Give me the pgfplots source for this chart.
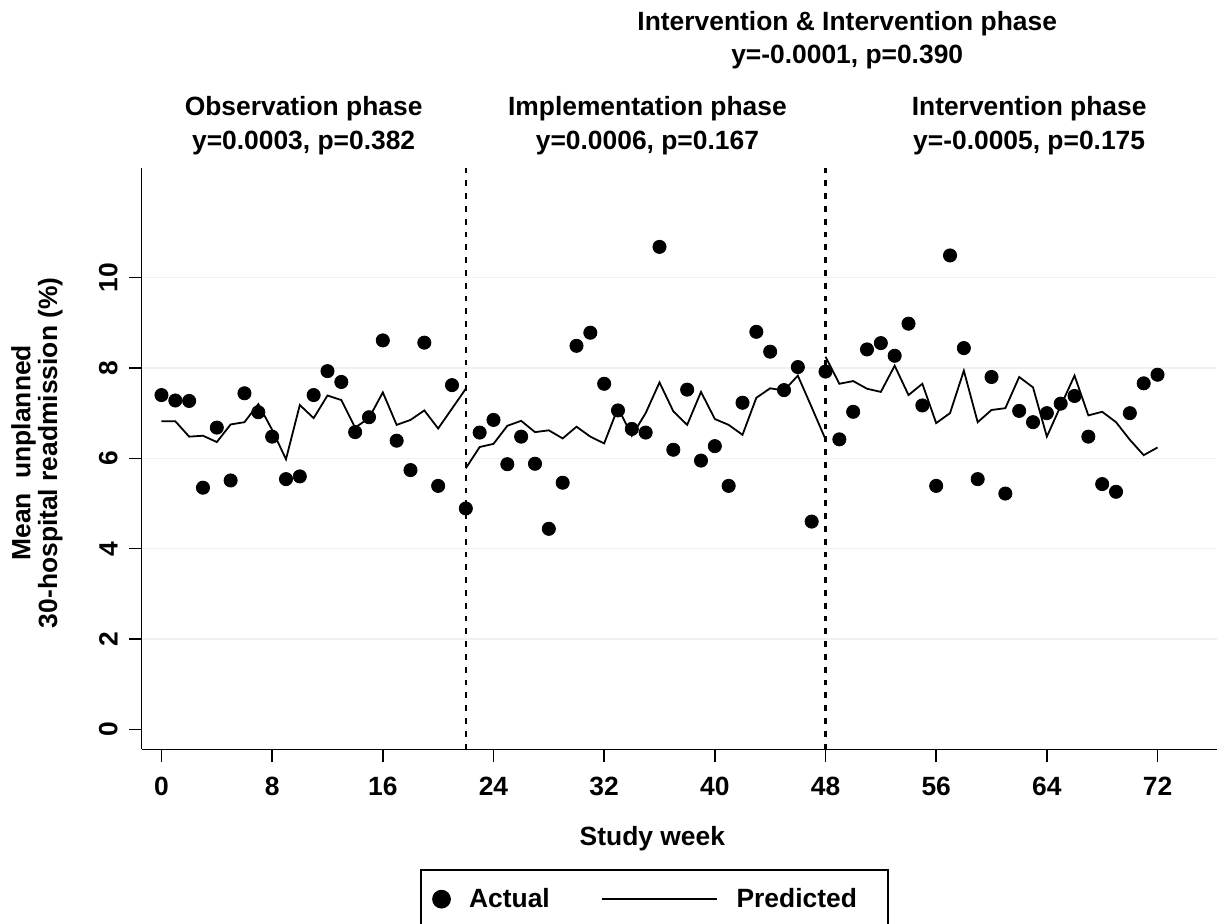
\documentclass[border=0pt]{standalone}
\usepackage{fontspec}
\setmainfont{Liberation Sans}
\usepackage{pgfplots}
\usepackage{pgfplotstable}
\pgfplotsset{compat=1.18}
\definecolor{gridc}{HTML}{EAF2F3}
\newcommand{\lbl}{\fontsize{13.2}{16}\selectfont\bfseries}

\pgfplotstableread{
week actual
0 7.40
1 7.28
2 7.27
3 5.35
4 6.68
5 5.51
6 7.44
7 7.02
8 6.48
9 5.54
10 5.60
11 7.40
12 7.93
13 7.69
14 6.58
15 6.91
16 8.61
17 6.39
18 5.74
19 8.56
20 5.39
21 7.62
22 4.89
23 6.57
24 6.85
25 5.87
26 6.48
27 5.88
28 4.44
29 5.46
30 8.49
31 8.78
32 7.65
33 7.06
34 6.65
35 6.57
36 10.68
37 6.19
38 7.52
39 5.95
40 6.27
41 5.39
42 7.23
43 8.80
44 8.36
45 7.51
46 8.02
47 4.60
48 7.92
49 6.42
50 7.03
51 8.41
52 8.55
53 8.27
54 8.98
55 7.17
56 5.39
57 10.49
58 8.44
59 5.54
60 7.80
61 5.22
62 7.05
63 6.80
64 7.00
65 7.21
66 7.38
67 6.48
68 5.43
69 5.26
70 7.00
71 7.66
72 7.85
}\actual

% predicted, observation phase
\pgfplotstableread{
week pred
0 6.82
1 6.82
2 6.48
3 6.50
4 6.36
5 6.75
6 6.80
7 7.20
8 6.63
9 5.98
10 7.18
11 6.89
12 7.39
13 7.29
14 6.68
15 6.89
16 7.46
17 6.74
18 6.85
19 7.06
20 6.66
21 7.10
22 7.54
}\predA

% implementation phase
\pgfplotstableread{
week pred
22 5.78
23 6.25
24 6.32
25 6.72
26 6.83
27 6.58
28 6.62
29 6.44
30 6.70
31 6.48
32 6.33
33 7.12
34 6.50
35 7.00
36 7.68
37 7.04
38 6.74
39 7.47
40 6.87
41 6.74
42 6.52
43 7.34
44 7.55
45 7.50
46 7.83
47 7.13
48 6.42
}\predB

% intervention phase
\pgfplotstableread{
week pred
48 8.25
49 7.65
50 7.71
51 7.54
52 7.47
53 8.05
54 7.40
55 7.65
56 6.78
57 7.00
58 7.94
59 6.80
60 7.07
61 7.11
62 7.80
63 7.57
64 6.48
65 7.16
66 7.83
67 6.95
68 7.03
69 6.80
70 6.41
71 6.07
72 6.24
}\predC

\begin{document}
\begin{tikzpicture}
\begin{axis}[
    name=ax,
    scale only axis,
    width=537.65pt, height=290.75pt,
    xmin=-1.43, xmax=76.3,
    ymin=-0.44, ymax=12.43,
    axis x line*=bottom, axis y line*=left,
    axis line style={black, line width=0.75pt, -},
    xtick={0,8,...,72},
    ytick={2,4,...,10},
    extra y ticks={0},
    extra y tick style={grid=none},
    ymajorgrids,
    grid style={gridc, line width=0.7pt},
    tick align=outside,
    major tick length=6.35pt,
    tick style={black, line width=0.75pt},
    /pgf/number format/assume math mode=true,
    ticklabel style={font=\lbl},
    xticklabel style={anchor=north, inner sep=0pt},
    yticklabel style={rotate=90, anchor=south, inner sep=0pt},
    xticklabel shift=7.35pt,
    yticklabel shift=5.5pt,
    xlabel={Study week},
    ylabel={Mean~ unplanned\\30-hospital readmission (\%)},
    every axis x label/.style={at={(axis description cs:0.4749,-0.1651)}, anchor=base, font=\lbl},
    every axis y label/.style={at={(axis description cs:-0.0974,0.51)}, rotate=90, anchor=center, align=center, font=\fontsize{13.2}{11.7}\selectfont\bfseries},
    legend columns=2,
    legend style={
        at={(0.4768,-0.2064)}, anchor=north,
        draw=black, line width=0.75pt,
        font=\lbl,
        inner xsep=6pt, inner ysep=7pt,
        /tikz/every odd column/.append style={column sep=7.5pt},
        /tikz/every even column/.append style={column sep=23.5pt},
    },
    clip=false,
]
\addplot[only marks, mark=*, mark size=3.3pt, mark options={fill=black, draw=black},
    legend image code/.code={\draw[mark size=4.3pt] plot coordinates {(0pt,0pt)};}]
    table[x=week, y=actual] {\actual};
\addlegendentry{Actual}
\addplot[black, line width=0.9pt, no marks,
    legend image code/.code={\draw (0pt,0pt) -- (57.5pt,0pt);}]
    table[x=week, y=pred] {\predA};
\addlegendentry{Predicted\hspace*{7.5pt}\rule[-7pt]{0pt}{1pt}}
\addplot[black, line width=0.9pt, no marks, forget plot] table[x=week, y=pred] {\predB};
\addplot[black, line width=0.9pt, no marks, forget plot] table[x=week, y=pred] {\predC};
\addplot[black, line width=1.1pt, dash pattern=on 2.9pt off 3.5pt, forget plot] coordinates {(22,-0.44) (22,12.43)};
\addplot[black, line width=1.1pt, dash pattern=on 2.9pt off 3.5pt, forget plot] coordinates {(48,-0.44) (48,12.43)};

\node[anchor=base, font=\lbl] at (axis description cs:0.1506,1.0898) {Observation phase};
\node[anchor=base, font=\lbl] at (axis description cs:0.1506,1.0308) {y=0.0003, p=0.382};
\node[anchor=base, font=\lbl] at (axis description cs:0.4703,1.0898) {Implementation phase};
\node[anchor=base, font=\lbl] at (axis description cs:0.4703,1.0308) {y=0.0006, p=0.167};
\node[anchor=base, font=\lbl] at (axis description cs:0.8253,1.0898) {Intervention phase};
\node[anchor=base, font=\lbl] at (axis description cs:0.8253,1.0308) {y=-0.0005, p=0.175};
\node[anchor=base, font=\lbl] at (axis description cs:0.6561,1.2365) {Intervention \& Intervention phase};
\node[anchor=base, font=\lbl] at (axis description cs:0.6561,1.1795) {y=-0.0001, p=0.390};
\end{axis}
\pgfresetboundingbox
\useasboundingbox ([xshift=-70.85pt,yshift=-86.85pt]ax.south west) rectangle ([yshift=83.9pt]ax.north east);
\end{tikzpicture}
\end{document}
